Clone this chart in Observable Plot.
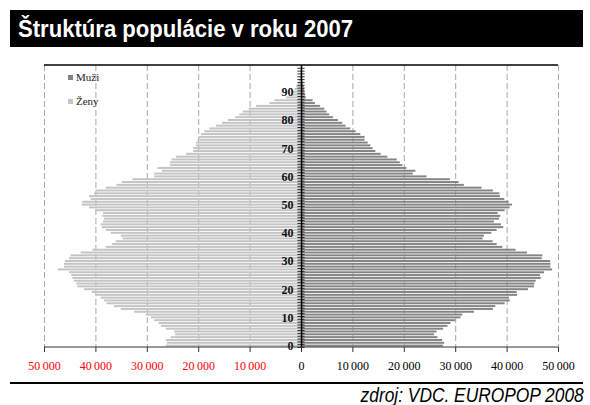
<!DOCTYPE html>
<html><head><meta charset="utf-8">
<script src="https://cdn.jsdelivr.net/npm/d3@7"></script>
<script src="https://cdn.jsdelivr.net/npm/@observablehq/plot@0.6"></script>
<style>
body{margin:0;background:#fff;}
#wrap{position:relative;width:590px;height:405px;overflow:hidden;background:#fff;}
#title{position:absolute;left:10px;top:10px;width:573px;height:37px;background:#000;}
#title span{position:absolute;left:8px;top:0;color:#fff;font:bold 23.5px "Liberation Sans",Arial,sans-serif;line-height:38px;white-space:nowrap;transform:scaleX(0.94);transform-origin:left center;}
#chart{position:absolute;left:0;top:46px;}
#rule{position:absolute;left:10px;top:382px;width:573px;height:2px;background:#000;}
#caption{position:absolute;right:6px;top:384px;font:italic 19.5px "Liberation Sans",Arial,sans-serif;color:#000;white-space:nowrap;transform:scaleX(0.89);transform-origin:right center;}
.sw{position:absolute;width:5px;height:5px;}
.lt{position:absolute;font:11px "Liberation Serif","DejaVu Serif","Times New Roman",serif;color:#222;line-height:12px;}
</style></head>
<body>
<div id="wrap">
  <div id="title"><span>Štruktúra populácie v roku 2007</span></div>
  <div id="chart"></div>
  <div class="sw" style="left:68px;top:75px;background:#848484"></div>
  <div class="lt" style="left:76px;top:71px">Muži</div>
  <div class="sw" style="left:68px;top:99px;background:#c4c4c4"></div>
  <div class="lt" style="left:76px;top:95px">Ženy</div>
  <div id="rule"></div>
  <div id="caption">zdroj: VDC. EUROPOP 2008</div>
</div>
<script>
const ages = d3.range(0, 100);
const men = [27590,27850,27460,26550,25900,26360,27660,28500,29090,30000,
31040,31360,33640,37340,37800,39620,40600,40460,42020,41960,
44170,45340,45400,45660,46640,46510,47290,48850,48520,48520,
48460,46830,46960,43970,41760,39160,38060,37280,35330,35590,
37020,38060,39360,38900,37540,38510,38770,38250,39620,40600,
41050,40400,39560,38700,38580,37340,35130,31690,30650,28960,
24410,21740,22260,20500,19730,19210,18620,16800,15500,14460,
13940,13490,12970,12380,12380,11540,10630,9590,8680,8030,
7180,6210,5490,4970,4520,3670,2700,2240,940,810,
680,620,550,400,300,220,150,100,70,50];
const women = [26300,26100,26300,25320,24470,24670,26300,27270,27720,28570,
29220,30190,32470,35070,36370,37860,38320,38970,39940,40720,
42220,43520,43710,44170,44490,44690,45140,47290,46120,46120,
45920,45140,44820,42870,40590,37990,36820,36040,34740,35070,
37020,37990,38770,38970,38510,38320,38640,38510,39940,41240,
42670,42540,40920,41240,40270,39940,38000,35910,34870,32790,
28570,28570,27070,27920,25510,25510,25190,24340,22390,20960,
20960,20440,20440,20120,19920,19470,18820,17840,16540,15370,
14270,12770,11990,11340,10170,8740,6140,5170,2890,1920,
1590,1270,940,620,400,280,190,130,80,50];
const ageLabels = [0,10,20,30,40,50,60,70,80,90];
const negTicks = [-50000,-40000,-30000,-20000,-10000];
const posTicks = [0,10000,20000,30000,40000,50000];
const gridTicks = [-50000,-40000,-30000,-20000,-10000,10000,20000,30000,40000,50000];

const fmt = d => d3.format(",")(Math.abs(d)).replace(/,/g, "\u2009");
const serif = "'Liberation Serif','DejaVu Serif','Times New Roman',serif";

const plot = Plot.plot({
  width: 590, height: 330,
  marginTop: 19, marginBottom: 29, marginLeft: 44, marginRight: 32,
  style: {background: "transparent", fontFamily: serif},
  x: {domain: [-50000, 50000], axis: null},
  y: {type: "band", domain: ages.slice().reverse(), paddingInner: 0.3, paddingOuter: 0.15, axis: null, round: false},
  marks: [
    Plot.ruleX(gridTicks, {stroke: "#a8a8a8", strokeDasharray: "6,3"}),
    Plot.barX(ages, {y: d => d, x1: d => -women[d], x2: 0, fill: "#c4c4c4"}),
    Plot.barX(ages, {y: d => d, x1: 0, x2: d => men[d], fill: "#848484"}),
    Plot.ruleY(ages, {y: d => d, x1: -700, x2: 700, stroke: "#000", strokeWidth: 0.8, dy: 1.4}),
    Plot.ruleX([0], {stroke: "#000", strokeWidth: 1.5}),
    Plot.text(ageLabels, {x: 0, y: d => d, text: d => String(d), dx: -8, textAnchor: "end", fontWeight: "bold", fontSize: 12, fontFamily: serif, fill: "#111"}),
    Plot.axisX(negTicks, {anchor: "bottom", tickSize: 5, tickPadding: 9, fill: "red", stroke: "#333", fontSize: 12, fontFamily: serif, tickFormat: fmt}),
    Plot.axisX(posTicks, {anchor: "bottom", tickSize: 5, tickPadding: 9, fill: "#000", stroke: "#333", fontSize: 12, fontFamily: serif, tickFormat: fmt})
  ]
});
const sx = plot.scale("x");
const svg = d3.select(plot);
const xa = sx.apply(-50000), xb = sx.apply(50000);
svg.append("line").attr("x1", xa).attr("x2", xb).attr("y1", 19).attr("y2", 19).attr("stroke", "#000").attr("stroke-width", 1.5);
svg.append("line").attr("x1", xa).attr("x2", xb).attr("y1", 301).attr("y2", 301).attr("stroke", "#333").attr("stroke-width", 1);
document.getElementById("chart").appendChild(plot);
</script>
</body></html>
